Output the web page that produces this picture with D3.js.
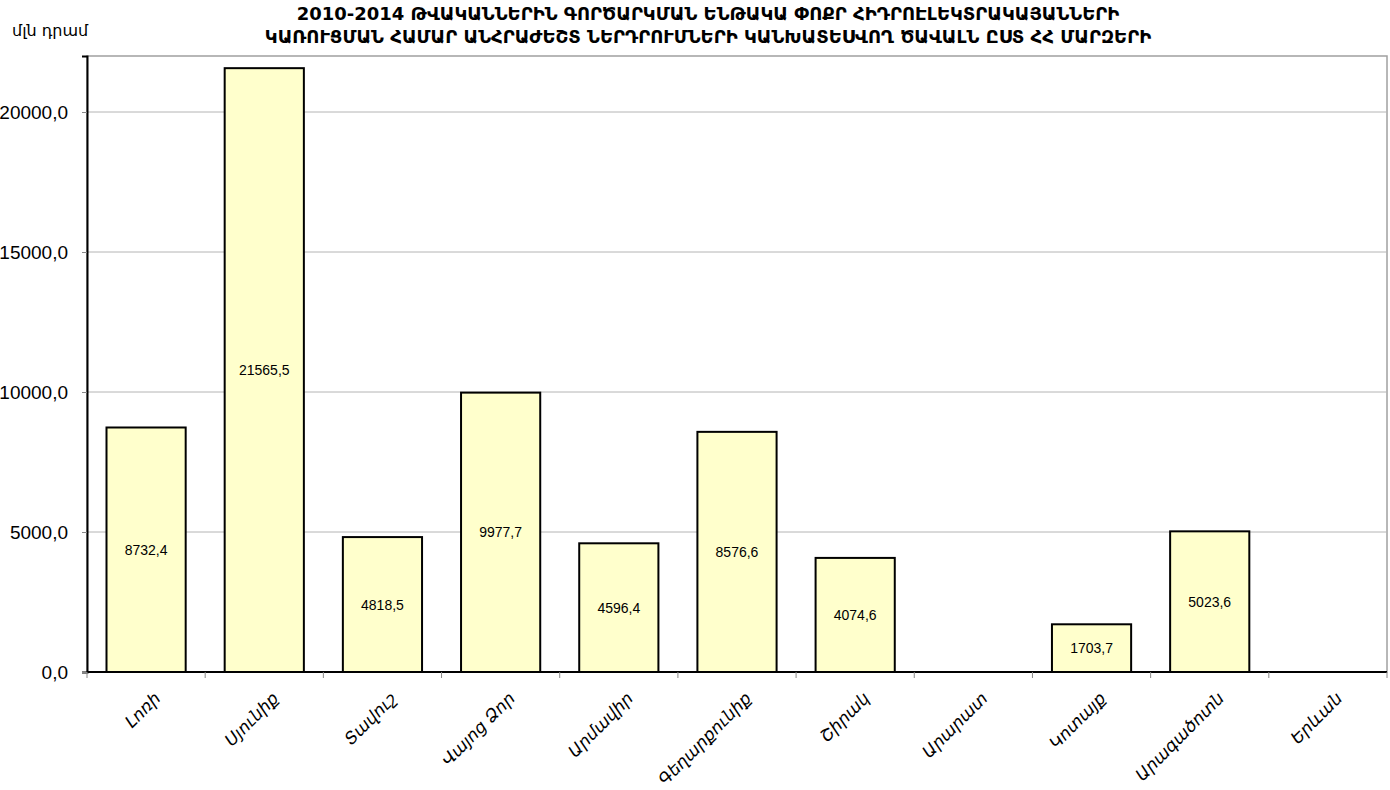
<!DOCTYPE html>
<html>
<head>
<meta charset="utf-8">
<script src="https://cdn.jsdelivr.net/npm/d3@7"></script>
<style>
  body { margin: 0; background: #fff; }
  svg { display: block; }
</style>
</head>
<body>
<div id="chart"></div>
<script>
var regions = ['Լոռի', 'Սյունիք', 'Տավուշ', 'Վայոց Ձոր', 'Արմավիր', 'Գեղարքունիք',
               'Շիրակ', 'Արարատ', 'Կոտայք', 'Արագածոտն', 'Երևան'];
var investment = [8732.4, 21565.5, 4818.5, 9977.7, 4596.4, 8576.6, 4074.6, null, 1703.7, 5023.6, null];
var yTicks = [0, 5000, 10000, 15000, 20000];
var titleLines = ['2010-2014 ԹՎԱԿԱՆՆԵՐԻՆ ԳՈՐԾԱՐԿՄԱՆ ԵՆԹԱԿԱ ՓՈՔՐ ՀԻԴՐՈԷԼԵԿՏՐԱԿԱՅԱՆՆԵՐԻ',
                  'ԿԱՌՈՒՑՄԱՆ ՀԱՄԱՐ ԱՆՀՐԱԺԵՇՏ ՆԵՐԴՐՈՒՄՆԵՐԻ ԿԱՆԽԱՏԵՍՎՈՂ ԾԱՎԱԼՆ ԸՍՏ ՀՀ ՄԱՐԶԵՐԻ'];
var unitLabel = 'մլն դրամ';

var width = 1390, height = 790;
var margin = {top: 56, right: 3, bottom: 118, left: 87};
var w = width - margin.left - margin.right,
    h = height - margin.top - margin.bottom;

var data = regions.map(function(r, i) { return {region: r, value: investment[i]}; });

var svg = d3.select('#chart').append('svg')
    .attr('width', width)
    .attr('height', height);

var x = d3.scaleBand().domain(regions).range([0, w]).paddingInner(0.33).paddingOuter(0.165);
var xTick = d3.scaleBand().domain(regions).range([0, w]);
var y = d3.scaleLinear().domain([0, 22000]).range([h, 0]);

var fmt = function(v) { return d3.format('.1f')(v).replace('.', ','); };

// title
svg.append('g').selectAll('text')
    .data(titleLines)
    .enter().append('text')
    .attr('x', 708)
    .attr('y', function(d, i) { return 20 + i * 23; })
    .attr('text-anchor', 'middle')
    .style('font-family', 'DejaVu Sans, Arial, sans-serif')
    .style('font-weight', 'bold')
    .style('font-size', '18px')
    .text(function(d) { return d; });

svg.append('text')
    .attr('x', 12)
    .attr('y', 36)
    .style('font-family', 'DejaVu Sans, Arial, sans-serif')
    .style('font-size', '16px')
    .text(unitLabel);

var g = svg.append('g').attr('transform', 'translate(' + margin.left + ',' + margin.top + ')');

// plot frame (top/right grey)
g.append('rect')
    .attr('x', 0).attr('y', 0).attr('width', w).attr('height', h)
    .attr('fill', 'none').attr('stroke', '#a0a0a0').attr('stroke-width', 1.5);

// gridlines
g.append('g').selectAll('line')
    .data(yTicks.filter(function(d) { return d > 0; }))
    .enter().append('line')
    .attr('x1', 0).attr('x2', w)
    .attr('y1', function(d) { return y(d); })
    .attr('y2', function(d) { return y(d); })
    .attr('stroke', '#b4b4b4').attr('stroke-width', 1);

// y axis
var yAxis = g.append('g')
    .call(d3.axisLeft(y).tickValues(yTicks).tickFormat(fmt).tickSize(5).tickPadding(14));
yAxis.select('.domain').attr('stroke', '#000').attr('stroke-width', 2);
yAxis.selectAll('.tick line').attr('stroke', '#888');
yAxis.selectAll('text')
    .style('font-family', 'Arial, Liberation Sans, sans-serif')
    .style('font-size', '19px')
    .attr('fill', '#000');

// bars
var bars = data.filter(function(d) { return d.value != null; });

g.append('g').selectAll('rect')
    .data(bars)
    .enter().append('rect')
    .attr('x', function(d) { return x(d.region); })
    .attr('y', function(d) { return y(d.value); })
    .attr('width', x.bandwidth())
    .attr('height', function(d) { return h - y(d.value); })
    .attr('fill', '#ffffcc')
    .attr('stroke', '#000')
    .attr('stroke-width', 2);

g.append('g').selectAll('text')
    .data(bars)
    .enter().append('text')
    .attr('x', function(d) { return x(d.region) + x.bandwidth() / 2; })
    .attr('y', function(d) { return (y(d.value) + h) / 2 + 5; })
    .attr('text-anchor', 'middle')
    .style('font-family', 'Arial, Liberation Sans, sans-serif')
    .style('font-size', '14px')
    .text(function(d) { return fmt(d.value); });

// x axis
g.append('line')
    .attr('x1', 0).attr('x2', w).attr('y1', h).attr('y2', h)
    .attr('stroke', '#000').attr('stroke-width', 2);

g.append('g').selectAll('line')
    .data(regions)
    .enter().append('line')
    .attr('x1', function(d) { return xTick(d) + xTick.bandwidth(); })
    .attr('x2', function(d) { return xTick(d) + xTick.bandwidth(); })
    .attr('y1', h).attr('y2', h + 6)
    .attr('stroke', '#888');
g.append('line').attr('x1', 0).attr('x2', 0).attr('y1', h).attr('y2', h + 6).attr('stroke', '#888');

g.append('g').selectAll('text')
    .data(regions)
    .enter().append('text')
    .attr('transform', function(d) {
        var cx = xTick(d) + xTick.bandwidth() / 2 + 7;
        return 'translate(' + cx + ',' + (h + 19) + ') rotate(-45)';
    })
    .attr('text-anchor', 'end')
    .attr('dy', '0.7em')
    .style('font-family', 'DejaVu Sans, sans-serif')
    .style('font-style', 'italic')
    .style('font-size', '17px')
    .text(function(d) { return d; });
</script>
</body>
</html>
